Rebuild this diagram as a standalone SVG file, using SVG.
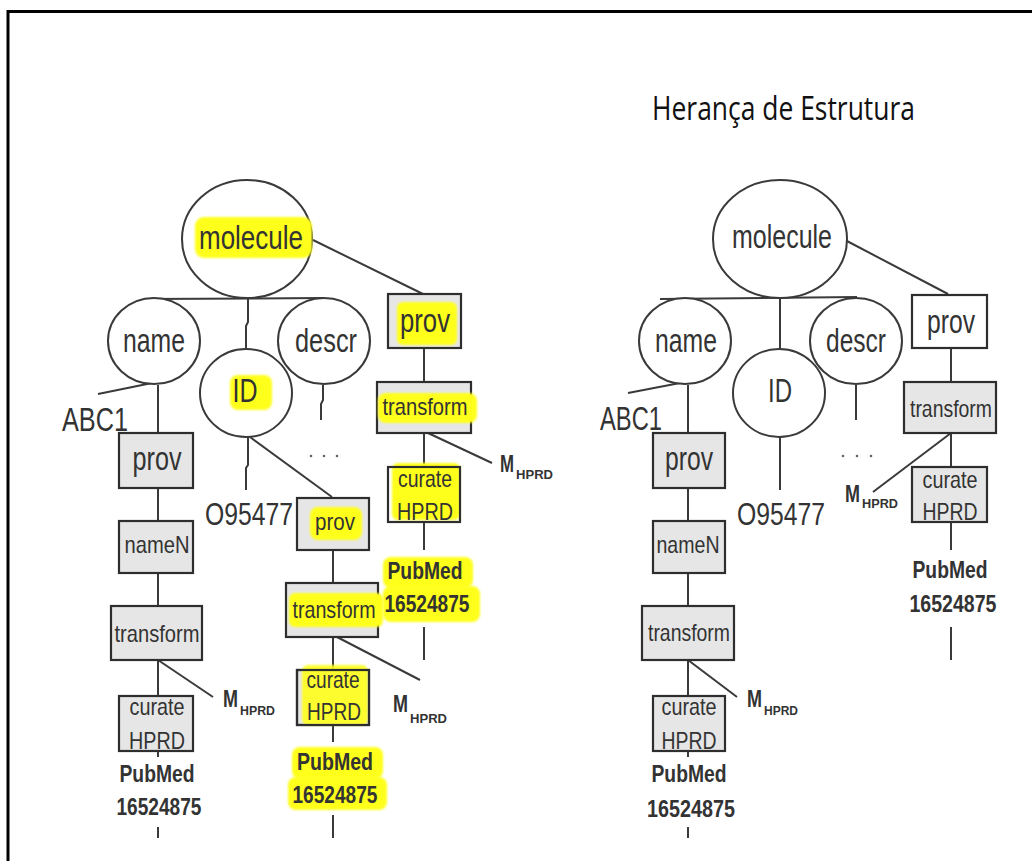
<svg xmlns="http://www.w3.org/2000/svg" width="1032" height="861" viewBox="0 0 1032 861">
  <style>
    .ell { fill: #ffffff; stroke: #3a3a3a; stroke-width: 2; }
    .box { fill: #e6e6e6; stroke: #2e2e2e; stroke-width: 2.2; }
    .boxw { fill: #ffffff; stroke: #2e2e2e; stroke-width: 2.2; }
    .hl { fill: #ffff1a; }
    .edge { fill: none; stroke: #3a3a3a; stroke-width: 2; }
    .lbl { font-family: "Liberation Sans", Arial, sans-serif; fill: #333333; text-anchor: middle; }
    .big { font-size: 33px; }
    .mid { font-size: 24px; }
    .pm { font-size: 23px; font-weight: bold; }
    .m { font-family: "Liberation Sans", Arial, sans-serif; font-weight: bold; fill: #333333; font-size: 23px; }
    .sub { font-family: "Liberation Sans", Arial, sans-serif; font-weight: bold; fill: #333333; font-size: 12px; }
    .title { font-family: "Open Sans", "Liberation Sans", sans-serif; font-size: 33px; fill: #111111; }
    .dot { fill: #666666; }
  </style>
  <defs>
    <filter id="soft" x="-10%" y="-10%" width="120%" height="120%">
      <feGaussianBlur stdDeviation="1"/>
    </filter>
  </defs>

  <rect width="1032" height="861" fill="#ffffff"/>
  <!-- frame: top and left rules only -->
  <path d="M8,861 V11.5 H1032" fill="none" stroke="#000000" stroke-width="3"/>

  <text class="title" x="652" y="120" textLength="263" lengthAdjust="spacingAndGlyphs">Herança de Estrutura</text>

  <!-- connectors -->
  <g id="connectors">
    <!-- left tree -->
    <line class="edge" x1="313" y1="240" x2="423" y2="294"/>
    <line class="edge" x1="145" y1="299" x2="323" y2="298"/>
    <polyline class="edge" points="248,298 248,322 246,326 246,350"/>
    <line class="edge" x1="152" y1="383" x2="98" y2="394"/>
    <line class="edge" x1="158" y1="385" x2="158" y2="433"/>
    <line class="edge" x1="158" y1="488" x2="158" y2="521"/>
    <line class="edge" x1="158" y1="573" x2="158" y2="606"/>
    <line class="edge" x1="158" y1="660" x2="158" y2="696"/>
    <line class="edge" x1="158" y1="660" x2="213" y2="697"/>
    <line class="edge" x1="158" y1="751" x2="158" y2="757"/>
    <line class="edge" x1="158" y1="827" x2="158" y2="838"/>
    <polyline class="edge" points="248,437 248,465 246,468 246,490"/>
    <line class="edge" x1="250" y1="437" x2="332" y2="497"/>
    <line class="edge" x1="333" y1="550" x2="333" y2="583"/>
    <line class="edge" x1="333" y1="637" x2="333" y2="670"/>
    <line class="edge" x1="337" y1="637" x2="420" y2="680"/>
    <line class="edge" x1="333" y1="725" x2="333" y2="742"/>
    <line class="edge" x1="333" y1="815" x2="333" y2="838"/>
    <polyline class="edge" points="323,385 323,400 321,404 321,420"/>
    <line class="edge" x1="424" y1="348" x2="424" y2="382"/>
    <line class="edge" x1="424" y1="433" x2="424" y2="467"/>
    <line class="edge" x1="428" y1="433" x2="492" y2="463"/>
    <line class="edge" x1="424" y1="522" x2="424" y2="550"/>
    <line class="edge" x1="424" y1="627" x2="424" y2="660"/>
    <!-- right tree -->
    <line class="edge" x1="845" y1="240" x2="948" y2="294"/>
    <line class="edge" x1="660" y1="299" x2="857" y2="297"/>
    <line class="edge" x1="780" y1="298" x2="780" y2="350"/>
    <line class="edge" x1="680" y1="383" x2="628" y2="393"/>
    <line class="edge" x1="688" y1="385" x2="688" y2="433"/>
    <line class="edge" x1="688" y1="488" x2="688" y2="521"/>
    <line class="edge" x1="688" y1="573" x2="688" y2="606"/>
    <line class="edge" x1="688" y1="660" x2="688" y2="696"/>
    <line class="edge" x1="688" y1="660" x2="737" y2="697"/>
    <line class="edge" x1="688" y1="751" x2="688" y2="757"/>
    <line class="edge" x1="688" y1="827" x2="688" y2="838"/>
    <line class="edge" x1="780" y1="437" x2="780" y2="490"/>
    <line class="edge" x1="856" y1="385" x2="856" y2="420"/>
    <line class="edge" x1="951" y1="348" x2="951" y2="382"/>
    <line class="edge" x1="951" y1="433" x2="951" y2="467"/>
    <line class="edge" x1="951" y1="433" x2="873" y2="492"/>
    <line class="edge" x1="951" y1="522" x2="951" y2="550"/>
    <line class="edge" x1="951" y1="627" x2="951" y2="660"/>
  </g>

  <!-- ===== left tree ===== -->
  <g id="L-molecule">
    <ellipse class="ell" cx="247" cy="239" rx="65" ry="59"/>
    <rect class="hl" x="195" y="217" width="117" height="41" rx="9" filter="url(#soft)"/>
    <text class="lbl big" x="251" y="249" textLength="104" lengthAdjust="spacingAndGlyphs">molecule</text>
  </g>
  <g id="L-name">
    <ellipse class="ell" cx="154" cy="341" rx="46" ry="43"/>
    <text class="lbl big" x="154" y="352" textLength="62" lengthAdjust="spacingAndGlyphs">name</text>
  </g>
  <g id="L-ID">
    <ellipse class="ell" cx="246" cy="393" rx="46" ry="44"/>
    <rect class="hl" x="230" y="375" width="42" height="35" rx="8" filter="url(#soft)"/>
    <text class="lbl big" x="245" y="402" textLength="25" lengthAdjust="spacingAndGlyphs">ID</text>
  </g>
  <g id="L-descr">
    <ellipse class="ell" cx="324" cy="341" rx="46" ry="43"/>
    <text class="lbl big" x="326" y="352" textLength="62" lengthAdjust="spacingAndGlyphs">descr</text>
  </g>
  <g id="L-ABC1">
    <text class="lbl big" x="95" y="431" textLength="66" lengthAdjust="spacingAndGlyphs">ABC1</text>
  </g>
  <g id="L-O95477">
    <text class="lbl" font-size="31" x="249" y="525" textLength="88" lengthAdjust="spacingAndGlyphs">O95477</text>
  </g>
  <g id="L-dots">
    <circle class="dot" cx="311" cy="456" r="1.3"/>
    <circle class="dot" cx="324" cy="456" r="1.3"/>
    <circle class="dot" cx="337" cy="456" r="1.3"/>
  </g>

  <g id="L-prov-top">
    <rect class="box" x="388" y="294" width="73" height="54"/>
    <rect class="hl" x="397" y="302" width="60" height="43" rx="6" filter="url(#soft)"/>
    <text class="lbl big" x="425" y="332" textLength="50" lengthAdjust="spacingAndGlyphs">prov</text>
  </g>
  <g id="L-transform-top">
    <rect class="box" x="377" y="382" width="94" height="51"/>
    <rect class="hl" x="378" y="393" width="99" height="30" rx="8" filter="url(#soft)"/>
    <text class="lbl mid" x="425" y="415" textLength="85" lengthAdjust="spacingAndGlyphs">transform</text>
  </g>
  <g id="L-curate-top">
    <rect class="hl" x="392" y="463" width="68" height="57" rx="6" filter="url(#soft)"/>
    <rect class="box" x="388" y="467" width="72" height="55" fill-opacity="0"/>
    <text class="lbl mid" x="425" y="487" textLength="54" lengthAdjust="spacingAndGlyphs">curate</text>
    <text class="lbl mid" x="425" y="520" textLength="56" lengthAdjust="spacingAndGlyphs">HPRD</text>
  </g>
  <g id="L-M-top">
    <text class="m" x="500" y="472" textLength="14" lengthAdjust="spacingAndGlyphs">M</text>
    <text class="sub" x="516" y="479" textLength="37" lengthAdjust="spacingAndGlyphs">HPRD</text>
  </g>
  <g id="L-pubmed-top">
    <rect class="hl" x="383" y="557" width="90" height="31" rx="8" filter="url(#soft)"/>
    <rect class="hl" x="383" y="586" width="97" height="36" rx="8" filter="url(#soft)"/>
    <text class="lbl pm" x="425" y="579" textLength="75" lengthAdjust="spacingAndGlyphs">PubMed</text>
    <text class="lbl pm" x="427" y="612" textLength="85" lengthAdjust="spacingAndGlyphs">16524875</text>
  </g>

  <g id="L-prov-1">
    <rect class="box" x="119" y="433" width="74" height="55"/>
    <text class="lbl big" x="157" y="470" textLength="49" lengthAdjust="spacingAndGlyphs">prov</text>
  </g>
  <g id="L-nameN">
    <rect class="box" x="119" y="521" width="74" height="52"/>
    <text class="lbl mid" x="157" y="553" textLength="65" lengthAdjust="spacingAndGlyphs">nameN</text>
  </g>
  <g id="L-transform-1">
    <rect class="box" x="111" y="606" width="91" height="54"/>
    <text class="lbl mid" x="157" y="642" textLength="85" lengthAdjust="spacingAndGlyphs">transform</text>
  </g>
  <g id="L-curate-1">
    <rect class="box" x="119" y="696" width="74" height="55"/>
    <text class="lbl mid" x="157" y="715" textLength="55" lengthAdjust="spacingAndGlyphs">curate</text>
    <text class="lbl mid" x="157" y="749" textLength="56" lengthAdjust="spacingAndGlyphs">HPRD</text>
  </g>
  <g id="L-M-1">
    <text class="m" x="223" y="707" textLength="15" lengthAdjust="spacingAndGlyphs">M</text>
    <text class="sub" x="240" y="715" textLength="35" lengthAdjust="spacingAndGlyphs">HPRD</text>
  </g>
  <g id="L-pubmed-1">
    <text class="lbl pm" x="157" y="782" textLength="75" lengthAdjust="spacingAndGlyphs">PubMed</text>
    <text class="lbl pm" x="159" y="815" textLength="85" lengthAdjust="spacingAndGlyphs">16524875</text>
  </g>

  <g id="L-prov-2">
    <rect class="box" x="297" y="498" width="72" height="52"/>
    <rect class="hl" x="310" y="507" width="52" height="33" rx="8" filter="url(#soft)"/>
    <text class="lbl mid" x="335" y="530" textLength="40" lengthAdjust="spacingAndGlyphs">prov</text>
  </g>
  <g id="L-transform-2">
    <rect class="box" x="286" y="583" width="92" height="54"/>
    <rect class="hl" x="289" y="593" width="94" height="34" rx="6" filter="url(#soft)"/>
    <text class="lbl mid" x="334" y="618" textLength="83" lengthAdjust="spacingAndGlyphs">transform</text>
  </g>
  <g id="L-curate-2">
    <rect class="box" x="297" y="670" width="72" height="55"/>
    <rect class="hl" x="302" y="665" width="66" height="60" rx="6" filter="url(#soft)" opacity="0.9"/>
    <rect x="297" y="670" width="72" height="55" fill="none" stroke="#2e2e2e" stroke-width="2.2"/>
    <text class="lbl mid" x="333" y="688" textLength="53" lengthAdjust="spacingAndGlyphs">curate</text>
    <text class="lbl mid" x="334" y="720" textLength="54" lengthAdjust="spacingAndGlyphs">HPRD</text>
  </g>
  <g id="L-M-2">
    <text class="m" x="393" y="712" textLength="15" lengthAdjust="spacingAndGlyphs">M</text>
    <text class="sub" x="410" y="723" textLength="37" lengthAdjust="spacingAndGlyphs">HPRD</text>
  </g>
  <g id="L-pubmed-2">
    <rect class="hl" x="292" y="747" width="91" height="32" rx="8" filter="url(#soft)"/>
    <rect class="hl" x="288" y="777" width="99" height="33" rx="8" filter="url(#soft)"/>
    <text class="lbl pm" x="335" y="770" textLength="76" lengthAdjust="spacingAndGlyphs">PubMed</text>
    <text class="lbl pm" x="335" y="803" textLength="85" lengthAdjust="spacingAndGlyphs">16524875</text>
  </g>

  <!-- ===== right tree ===== -->
  <g id="R-molecule">
    <ellipse class="ell" cx="780" cy="239" rx="67" ry="59"/>
    <text class="lbl big" x="782" y="248" textLength="100" lengthAdjust="spacingAndGlyphs">molecule</text>
  </g>
  <g id="R-name">
    <ellipse class="ell" cx="685" cy="341" rx="46" ry="43"/>
    <text class="lbl big" x="686" y="352" textLength="62" lengthAdjust="spacingAndGlyphs">name</text>
  </g>
  <g id="R-ID">
    <ellipse class="ell" cx="779" cy="393" rx="46" ry="44"/>
    <text class="lbl big" x="780" y="402" textLength="24" lengthAdjust="spacingAndGlyphs">ID</text>
  </g>
  <g id="R-descr">
    <ellipse class="ell" cx="856" cy="341" rx="46" ry="43"/>
    <text class="lbl big" x="856" y="352" textLength="60" lengthAdjust="spacingAndGlyphs">descr</text>
  </g>
  <g id="R-ABC1">
    <text class="lbl big" x="631" y="430" textLength="62" lengthAdjust="spacingAndGlyphs">ABC1</text>
  </g>
  <g id="R-O95477">
    <text class="lbl" font-size="31" x="781" y="525" textLength="88" lengthAdjust="spacingAndGlyphs">O95477</text>
  </g>
  <g id="R-dots">
    <circle class="dot" cx="843" cy="456" r="1.3"/>
    <circle class="dot" cx="857" cy="456" r="1.3"/>
    <circle class="dot" cx="871" cy="456" r="1.3"/>
  </g>

  <g id="R-prov-top">
    <rect class="boxw" x="912" y="295" width="75" height="53"/>
    <text class="lbl big" x="951" y="333" textLength="48" lengthAdjust="spacingAndGlyphs">prov</text>
  </g>
  <g id="R-transform-top">
    <rect class="box" x="904" y="382" width="92" height="51"/>
    <text class="lbl mid" x="951" y="417" textLength="82" lengthAdjust="spacingAndGlyphs">transform</text>
  </g>
  <g id="R-curate-top">
    <rect class="box" x="912" y="467" width="75" height="55"/>
    <text class="lbl mid" x="950" y="488" textLength="55" lengthAdjust="spacingAndGlyphs">curate</text>
    <text class="lbl mid" x="950" y="520" textLength="55" lengthAdjust="spacingAndGlyphs">HPRD</text>
  </g>
  <g id="R-M-top">
    <text class="m" x="845" y="502" textLength="15" lengthAdjust="spacingAndGlyphs">M</text>
    <text class="sub" x="862" y="508" textLength="36" lengthAdjust="spacingAndGlyphs">HPRD</text>
  </g>
  <g id="R-pubmed-top">
    <text class="lbl pm" x="950" y="578" textLength="75" lengthAdjust="spacingAndGlyphs">PubMed</text>
    <text class="lbl pm" x="953" y="612" textLength="87" lengthAdjust="spacingAndGlyphs">16524875</text>
  </g>

  <g id="R-prov-1">
    <rect class="box" x="653" y="433" width="72" height="55"/>
    <text class="lbl big" x="689" y="470" textLength="48" lengthAdjust="spacingAndGlyphs">prov</text>
  </g>
  <g id="R-nameN">
    <rect class="box" x="653" y="521" width="72" height="52"/>
    <text class="lbl mid" x="688" y="553" textLength="63" lengthAdjust="spacingAndGlyphs">nameN</text>
  </g>
  <g id="R-transform-1">
    <rect class="box" x="642" y="606" width="92" height="54"/>
    <text class="lbl mid" x="689" y="641" textLength="82" lengthAdjust="spacingAndGlyphs">transform</text>
  </g>
  <g id="R-curate-1">
    <rect class="box" x="653" y="696" width="72" height="55"/>
    <text class="lbl mid" x="689" y="715" textLength="55" lengthAdjust="spacingAndGlyphs">curate</text>
    <text class="lbl mid" x="689" y="749" textLength="55" lengthAdjust="spacingAndGlyphs">HPRD</text>
  </g>
  <g id="R-M-1">
    <text class="m" x="747" y="707" textLength="15" lengthAdjust="spacingAndGlyphs">M</text>
    <text class="sub" x="764" y="715" textLength="34" lengthAdjust="spacingAndGlyphs">HPRD</text>
  </g>
  <g id="R-pubmed-1">
    <text class="lbl pm" x="689" y="782" textLength="75" lengthAdjust="spacingAndGlyphs">PubMed</text>
    <text class="lbl pm" x="691" y="817" textLength="88" lengthAdjust="spacingAndGlyphs">16524875</text>
  </g>
</svg>
